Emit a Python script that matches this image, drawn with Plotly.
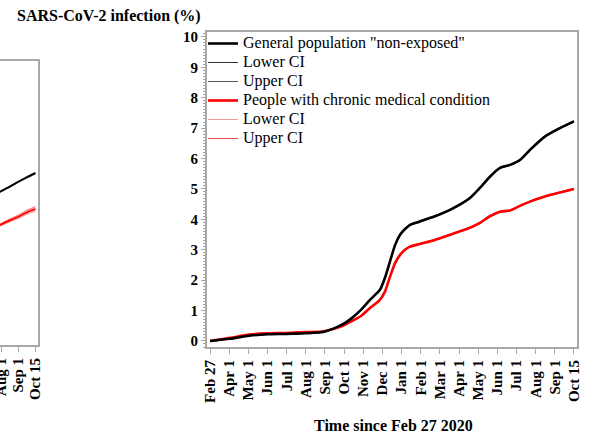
import plotly.graph_objects as go

# ---------------- data ----------------
tick_labels = ["Feb 27", "Apr 1", "May 1", "Jun 1", "Jul 1", "Aug 1", "Sep 1", "Oct 1",
               "Nov 1", "Dec 1", "Jan 1", "Feb 1", "Mar 1", "Apr 1", "May 1", "Jun 1",
               "Jul 1", "Aug 1", "Sep 1", "Oct 15"]
tick_pos = list(range(len(tick_labels)))

# time in axis-tick units (0 = Feb 27 2020, 19 = Oct 15 2021)
t = [0, 1.04, 2.04, 3.03, 3.97, 4.96, 5.95, 6.94, 7.4, 7.88, 8.35, 8.87, 9.13, 9.39, 9.66,
     9.92, 10.18, 10.44, 10.96, 11.74, 12.53, 13.57, 14.09, 14.61, 15.14, 15.66, 16.18,
     16.70, 17.48, 18.27, 19.0]
gen = [0, 0.07, 0.17, 0.22, 0.23, 0.25, 0.3, 0.55, 0.75, 1.02, 1.35, 1.68, 2.07, 2.6, 3.15,
       3.49, 3.68, 3.82, 3.93, 4.1, 4.31, 4.7, 5.03, 5.4, 5.69, 5.79, 5.95, 6.28, 6.72, 7.0, 7.22]
gen_lo = [0, 0.065, 0.165, 0.215, 0.225, 0.245, 0.295, 0.54, 0.74, 1.01, 1.34, 1.67, 2.05, 2.58, 3.13,
          3.47, 3.66, 3.8, 3.91, 4.08, 4.29, 4.68, 5.01, 5.38, 5.67, 5.77, 5.93, 6.26, 6.7, 6.98, 7.2]
gen_hi = [0, 0.075, 0.175, 0.225, 0.235, 0.255, 0.305, 0.56, 0.76, 1.03, 1.36, 1.69, 2.09, 2.62, 3.17,
          3.51, 3.7, 3.84, 3.95, 4.12, 4.33, 4.72, 5.05, 5.42, 5.71, 5.81, 5.97, 6.3, 6.74, 7.02, 7.24]
chr_ = [0, 0.1, 0.21, 0.25, 0.26, 0.29, 0.32, 0.5, 0.65, 0.82, 1.08, 1.35, 1.62, 2.1, 2.56,
        2.83, 3.0, 3.1, 3.19, 3.32, 3.49, 3.72, 3.88, 4.1, 4.25, 4.29, 4.44, 4.58, 4.75, 4.88, 5.0]
chr_lo = [0, 0.095, 0.205, 0.245, 0.255, 0.285, 0.315, 0.49, 0.64, 0.81, 1.07, 1.34, 1.61, 2.08, 2.54,
          2.81, 2.98, 3.08, 3.17, 3.3, 3.47, 3.7, 3.86, 4.08, 4.23, 4.27, 4.42, 4.56, 4.73, 4.86, 4.98]
chr_hi = [0, 0.105, 0.215, 0.255, 0.265, 0.295, 0.325, 0.51, 0.66, 0.83, 1.09, 1.36, 1.63, 2.12, 2.58,
          2.85, 3.02, 3.12, 3.21, 3.34, 3.51, 3.74, 3.9, 4.12, 4.27, 4.31, 4.46, 4.6, 4.77, 4.9, 5.02]

# partially visible left panel (only its right end shows)
left_tick_labels = ["Aug 1", "Sep 1", "Oct 15"]
left_tick_pos = [17, 18, 19]
lt = [16.9, 17.47, 18.0, 18.53, 19.0]
l_gen = [4.92, 5.09, 5.26, 5.42, 5.55]
l_gen_lo = [4.9, 5.07, 5.24, 5.39, 5.52]
l_gen_hi = [4.94, 5.11, 5.28, 5.45, 5.58]
l_chr = [3.81, 3.96, 4.09, 4.25, 4.35]
l_chr_lo = [3.77, 3.91, 4.03, 4.18, 4.27]
l_chr_hi = [3.85, 4.01, 4.15, 4.32, 4.43]

W, H = 592, 437
SERIF = "Liberation Serif, Times New Roman, serif"
GRAY = "#a8a8a8"
SM = 0.7


def lg(name):
    return '<span style="font-size:16px">' + name + '</span>'


def ln(color, width):
    return dict(color=color, width=width, shape="spline", smoothing=SM)


fig = go.Figure()

# right (main) panel: CI lines drawn first (underneath), legend order set by legendrank
fig.add_trace(go.Scatter(x=t, y=gen_lo, mode="lines", line=ln("#303030", 1),
                         name=lg("Lower CI"), legendrank=2))
fig.add_trace(go.Scatter(x=t, y=gen_hi, mode="lines", line=ln("#555555", 1),
                         name=lg("Upper CI"), legendrank=3))
fig.add_trace(go.Scatter(x=t, y=chr_lo, mode="lines", line=ln("#f59a9a", 1),
                         name=lg("Lower CI"), legendrank=5))
fig.add_trace(go.Scatter(x=t, y=chr_hi, mode="lines", line=ln("#e85050", 1),
                         name=lg("Upper CI"), legendrank=6))
fig.add_trace(go.Scatter(x=t, y=chr_, mode="lines", line=ln("#ff0000", 2.6),
                         name=lg("People with chronic medical condition"), legendrank=4))
fig.add_trace(go.Scatter(x=t, y=gen, mode="lines", line=ln("black", 2.6),
                         name=lg('General population "non-exposed"'), legendrank=1))

# left (cut-off) panel
fig.add_trace(go.Scatter(x=lt, y=l_gen_lo, mode="lines", line=ln("#555555", 0.8),
                         xaxis="x2", yaxis="y2", showlegend=False))
fig.add_trace(go.Scatter(x=lt, y=l_gen_hi, mode="lines", line=ln("#555555", 0.8),
                         xaxis="x2", yaxis="y2", showlegend=False))
fig.add_trace(go.Scatter(x=lt, y=l_gen, mode="lines", line=ln("black", 1.8),
                         xaxis="x2", yaxis="y2", showlegend=False))
fig.add_trace(go.Scatter(x=lt, y=l_chr_lo, mode="lines", line=ln("#f59a9a", 0.8),
                         xaxis="x2", yaxis="y2", showlegend=False))
fig.add_trace(go.Scatter(x=lt, y=l_chr_hi, mode="lines", line=ln("#f06060", 0.8),
                         fill="tonexty", fillcolor="rgba(255,90,90,0.45)",
                         xaxis="x2", yaxis="y2", showlegend=False))
fig.add_trace(go.Scatter(x=lt, y=l_chr, mode="lines", line=ln("#ff0000", 1.8),
                         xaxis="x2", yaxis="y2", showlegend=False))

tickfont = dict(family=SERIF, size=15, color="black", weight="bold")

fig.update_layout(
    width=W, height=H, autosize=False,
    margin=dict(l=0, r=0, t=0, b=0),
    paper_bgcolor="white", plot_bgcolor="white",
    showlegend=True,
    legend=dict(x=203 / W, y=1 - 29 / H, xanchor="left", yanchor="top",
                traceorder="normal",
                bgcolor="rgba(0,0,0,0)", borderwidth=0,
                font=dict(family=SERIF, size=12, color="black")),
    xaxis=dict(domain=[207 / W, 577 / W], range=[-0.16, 19.16],
               tickmode="array", tickvals=tick_pos, ticktext=tick_labels,
               tickangle=-90, tickfont=tickfont, ticks="outside", ticklen=5,
               tickcolor=GRAY, tickwidth=1, ticklabeloverflow="allow",
               showline=True, linecolor=GRAY, linewidth=2, mirror=True,
               showgrid=False, zeroline=False, anchor="y", automargin=False),
    yaxis=dict(domain=[1 - 347 / H, 1 - 32 / H], range=[-0.2, 10.16],
               tickmode="linear", tick0=0, dtick=1,
               tickfont=tickfont, ticks="outside", ticklen=4, tickcolor=GRAY,
               minor=dict(dtick=0.1, tick0=0, ticks="outside", ticklen=2, tickcolor=GRAY,
                          tickwidth=1, showgrid=False),
               showline=True, linecolor=GRAY, linewidth=2, mirror=True,
               showgrid=False, zeroline=False, anchor="x", automargin=False),
    xaxis2=dict(domain=[0, 38 / W], range=[16.92, 19.15],
                tickmode="array", tickvals=left_tick_pos, ticktext=left_tick_labels,
                tickangle=-90, tickfont=tickfont, ticks="outside", ticklen=5,
                tickcolor=GRAY, ticklabeloverflow="allow",
                showline=True, linecolor=GRAY, linewidth=2, mirror=True,
                showgrid=False, zeroline=False, anchor="y2", automargin=False),
    yaxis2=dict(domain=[1 - 345 / H, 1 - 61 / H], range=[-0.2, 9.3],
                side="right", showticklabels=False, ticks="",
                showline=True, linecolor=GRAY, linewidth=2,
                showgrid=False, zeroline=False, anchor="x2", automargin=False),
    annotations=[
        dict(text="<b>SARS-CoV-2 infection (%)</b>", xref="paper", yref="paper",
             x=109 / W, y=1 - 16 / H, xanchor="center", yanchor="middle", showarrow=False,
             font=dict(family=SERIF, size=16, color="black")),
        dict(text="<b>Time since Feb 27 2020</b>", xref="paper", yref="paper",
             x=393 / W, y=1 - 425 / H, xanchor="center", yanchor="middle", showarrow=False,
             font=dict(family=SERIF, size=16, color="black")),
    ],
)

fig.write_html("out.html", config={"displayModeBar": False},
               post_script="document.body.style.margin='0';document.body.style.padding='0';")
